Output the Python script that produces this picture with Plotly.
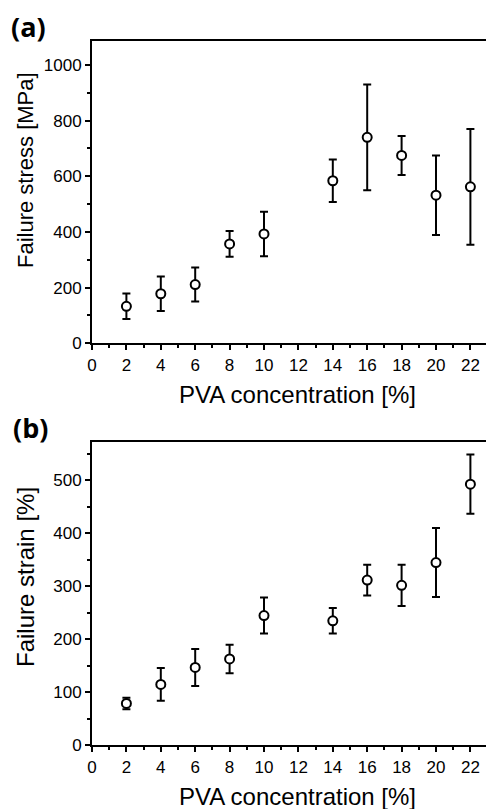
import plotly.graph_objects as go

# ---- data ----
pva = [2, 4, 6, 8, 10, 14, 16, 18, 20, 22]
stress = [133, 178, 211, 357, 393, 584, 740, 675, 532, 562]
stress_err = [46, 62, 61, 46, 80, 76, 190, 70, 143, 208]
strain = [79, 115, 147, 163, 245, 235, 312, 302, 345, 493]
strain_err = [11, 31, 35, 27, 34, 24, 29, 39, 65, 56]
x_ticks = list(range(0, 24, 2))
stress_ticks = [0, 200, 400, 600, 800, 1000]
strain_ticks = [0, 100, 200, 300, 400, 500]

OFF = 8  # page body margin
W, H = 494 - OFF, 809 - OFF
FONT = "Liberation Sans, Arial, sans-serif"

def px_x(p):
    return (p - OFF) / W

def px_y(p):
    return 1 - (p - OFF) / H

fig = go.Figure()

def add_series(x, y, err, xa, ya):
    fig.add_trace(go.Scatter(
        x=x, y=y, mode="markers", xaxis=xa, yaxis=ya,
        marker=dict(symbol="circle", size=9, color="white",
                    line=dict(color="black", width=2)),
        error_y=dict(type="data", array=err, visible=True,
                     color="black", thickness=2, width=4),
        showlegend=False, hoverinfo="x+y"))

add_series(pva, stress, stress_err, "x", "y")
add_series(pva, strain, strain_err, "x2", "y2")

x_left = 92
x_rng = [0, (494 - x_left) / 17.2]

def xaxis_cfg(anchor):
    return dict(domain=[px_x(x_left), 1], range=x_rng, anchor=anchor,
                automargin=False,
                tickmode="array", tickvals=x_ticks,
                ticks="outside", ticklen=5, tickwidth=2, tickcolor="black",
                minor=dict(dtick=1, ticks="outside", ticklen=3, tickwidth=2,
                           tickcolor="black"),
                showline=True, linecolor="black", linewidth=2, mirror=True,
                showgrid=False, zeroline=False,
                tickfont=dict(family=FONT, size=17, color="black"))

def yaxis_cfg(anchor, top, bottom, rng, tickvals, minor):
    return dict(domain=[px_y(bottom), px_y(top)], range=rng, anchor=anchor,
                automargin=False,
                tickmode="array", tickvals=tickvals,
                ticks="outside", ticklen=5, tickwidth=2, tickcolor="black",
                minor=dict(dtick=minor, ticks="outside", ticklen=3, tickwidth=2,
                           tickcolor="black"),
                showline=True, linecolor="black", linewidth=2, mirror=False,
                showgrid=False, zeroline=False,
                tickfont=dict(family=FONT, size=17, color="black"))

fig.update_layout(
    width=W, height=H,
    margin=dict(l=0, r=0, t=0, b=0, autoexpand=False),
    paper_bgcolor="white", plot_bgcolor="white",
    xaxis=xaxis_cfg("y"),
    yaxis=yaxis_cfg("x", 41, 343.3, [0, 1086], stress_ticks, 100),
    xaxis2=xaxis_cfg("y2"),
    yaxis2=yaxis_cfg("x2", 442.3, 745.3, [0, 572], strain_ticks, 50),
)

ann = []
def text(t, x, y, size, bold=False, angle=0, family=FONT):
    ann.append(dict(text=f"<b>{t}</b>" if bold else t, x=px_x(x), y=px_y(y),
                    xref="paper", yref="paper", showarrow=False,
                    xanchor="center", yanchor="middle", textangle=angle,
                    font=dict(family=family, size=size, color="black")))

text("PVA concentration [%]", 297.5, 394, 24)
text("PVA concentration [%]", 297.5, 796, 24)
text("Failure stress [MPa]", 25, 170, 22, angle=-90)
text("Failure strain [%]", 25, 577, 24, angle=-90)
text("(a)", 28.5, 26, 27, bold=True, family="Open Sans, sans-serif")
text("(b)", 30, 428, 27, bold=True, family="Open Sans, sans-serif")
fig.update_layout(annotations=ann)

fig.write_html("out.html")
